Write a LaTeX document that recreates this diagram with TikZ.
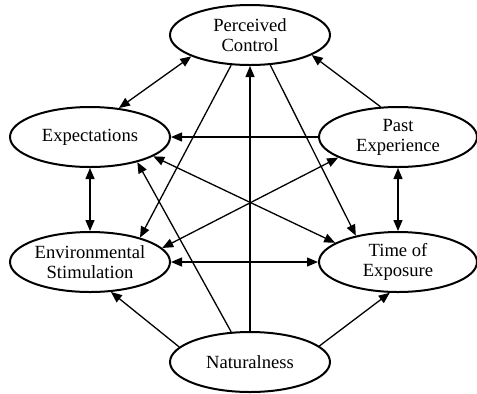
\documentclass[tikz,border=0pt]{standalone}
\usepackage{fontspec}
\setmainfont{Liberation Serif}
\usetikzlibrary{arrows.meta,shapes.geometric}

\begin{document}
\begin{tikzpicture}[x=0.5pt,y=-0.5pt,
  factor/.style={draw,ellipse,line width=1pt,minimum width=80pt,minimum height=30pt,
    inner sep=0pt,align=center,font=\fontsize{9.3}{10}\selectfont},
  sidefactor/.style={factor,minimum width=79pt},
  link/.style={line width=0.65pt,-{Triangle[length=5.5pt,width=4.5pt]}},
  twoway/.style={link,{Triangle[length=5.5pt,width=4.5pt]}-{Triangle[length=5.5pt,width=4.5pt]}}]
\useasboundingbox (0,0) rectangle (477,393);

% Define the factors.
\node[factor] (pc) at (250,35) {Perceived\\Control};
\node[factor] (exp) at (90,137) {Expectations};
\node[sidefactor] (past) at (398,137) {Past\\Experience};
\node[factor] (env) at (90,262) {Environmental\\Stimulation};
\node[sidefactor] (time) at (398,262) {Time of\\Exposure};
\node[factor] (nat) at (250,362) {Naturalness};

\draw[twoway] (exp.45) -- (pc.200);
\draw[link] (past.120) -- (pc.342);
\draw[link] (past) -- (exp);
\draw[twoway] (exp) -- (env);
\draw[twoway] (past) -- (time);
\draw[twoway] (env) -- (time);

\draw[link] (pc.238) -- (env.26);
\draw[link] (pc.304) -- (time.148);

% Links out of Naturalness.
\draw[link] (nat) -- (pc);
\draw[link] (nat.122) -- (exp.332);
\draw[link] (nat.168) -- (env.305);
\draw[link] (nat.13) -- (time.255);

\draw[twoway] (exp.343) -- (time.163);
\draw[twoway] (past.199) -- (env.11);

\end{tikzpicture}
\end{document}
